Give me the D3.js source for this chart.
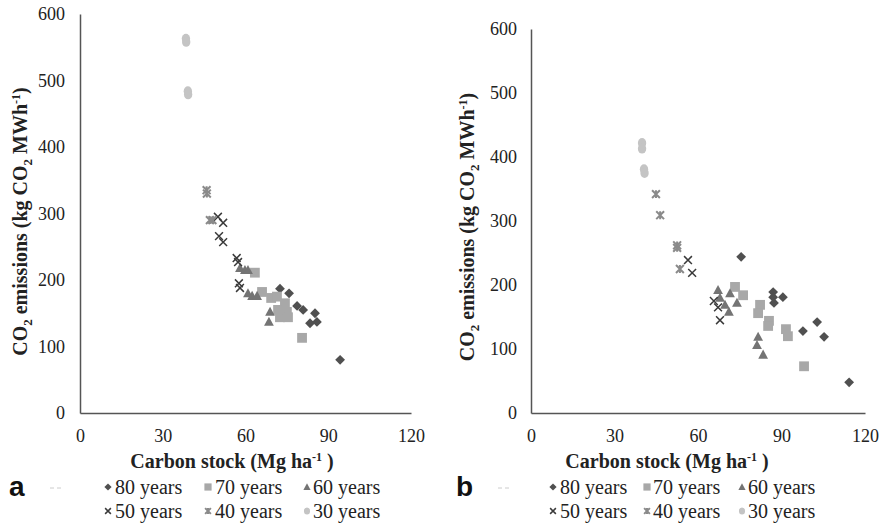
<!DOCTYPE html>
<html><head><meta charset="utf-8">
<script src="https://cdn.jsdelivr.net/npm/d3@7"></script>
<style>
html,body{margin:0;padding:0;background:#fff;}
</style></head>
<body><svg id="c" width="882" height="523"></svg>
<script>
// ---- data ----
const seriesNames = ["80 years","70 years","60 years","50 years","40 years","30 years"];
const xTicks = [0,30,60,90,120];
const yTicks = [0,100,200,300,400,500,600];

// panel a
const a80x=[72.5,75.8,78.7,80.9,85.2,83.4,85.9,94.3];
const a80y=[187,180,161,155,150,135,137,80];
const a70x=[63.4,66.0,69.3,71.4,74.3,75.0,72.5,75.4,80.5,71.8];
const a70y=[211,182,173,175,165,152,144,144,113,155];
const a60x=[58.0,59.8,60.9,60.9,62.4,64.2,68.9,68.5];
const a60y=[218,215,215,180,176,176,152,137];
const a50x=[50.0,51.9,50.4,51.9,56.8,57.3,57.6,58.0];
const a50y=[295,286,266,257,233,227,195,188];
const a40x=[45.9,46.0,47.1,48.0];
const a40y=[335,330,290,290];
const a30x=[38.4,38.5,39.1,39.2];
const a30y=[563,558,484,479];

// panel b
const b80x=[75.5,87.0,87.0,87.3,90.5,97.7,102.8,105.3,114.3];
const b80y=[244,189,181,172,181,128,142,119,48];
const b70x=[73.3,76.2,82.3,81.6,85.5,85.2,91.6,92.3,98.1];
const b70y=[197,184,169,156,144,136,131,120,73];
const b60x=[67.2,71.5,74.0,69.7,71.1,67.9,81.6,81.2,83.4];
const b60y=[192,187,172,169,158,180,119,106,91];
const b50x=[56.4,57.9,65.7,67.2,67.9];
const b50y=[239,219,175,165,145];
const b40x=[44.9,46.4,52.5,52.5,53.5];
const b40y=[342,309,262,258,225];
const b30x=[39.9,39.9,40.6,40.8];
const b30y=[422,413,381,375];

const zip=(xs,ys)=>xs.map((x,i)=>({x:x,y:ys[i]}));
const panelA=[zip(a80x,a80y),zip(a70x,a70y),zip(a60x,a60y),zip(a50x,a50y),zip(a40x,a40y),zip(a30x,a30y)];
const panelB=[zip(b80x,b80y),zip(b70x,b70y),zip(b60x,b60y),zip(b50x,b50y),zip(b40x,b40y),zip(b30x,b30y)];

// ---- styles ----
const SERIF='"Liberation Serif","Times New Roman",serif';
const SANS='"Liberation Sans",Arial,sans-serif';
const colors=["#505050","#a8a8a8","#747474","#3a3a3a","#8a8a8a","#c4c4c4"];
function drawMarker(g,k,s){
  if(k===0){ g.append("path").attr("d",`M0,${-s}L${s},0L0,${s}L${-s},0Z`).attr("fill",colors[0]); }
  else if(k===1){ g.append("rect").attr("x",-s).attr("y",-s).attr("width",2*s).attr("height",2*s).attr("fill",colors[1]); }
  else if(k===2){ g.append("path").attr("d",`M0,${-s*1.05}L${s},${s*0.8}L${-s},${s*0.8}Z`).attr("fill",colors[2]); }
  else if(k===3){ const t=s*0.8; g.append("path").attr("d",`M${-t},${-t}L${t},${t}M${-t},${t}L${t},${-t}`).attr("stroke",colors[3]).attr("stroke-width",1.5).attr("fill","none"); }
  else if(k===4){ const t=s*0.8; g.append("path").attr("d",`M${-t},${-t}L${t},${t}M${-t},${t}L${t},${-t}M0,${-t}L0,${t}`).attr("stroke",colors[4]).attr("stroke-width",2).attr("fill","none"); }
  else { g.append("ellipse").attr("rx",s*0.85).attr("ry",s).attr("fill",colors[5]); }
}

const svg=d3.select("#c");

function panel(cfg){
  const x=d3.scaleLinear().domain([0,120]).range([cfg.x0,cfg.x1]);
  const y=d3.scaleLinear().domain([0,600]).range([cfg.yb,cfg.yt]);
  const g=svg.append("g");
  const ya=d3.axisLeft(y).tickValues(yTicks).tickSize(0).tickPadding(cfg.ypad);
  g.append("g").attr("transform",`translate(${cfg.x0},0)`).call(ya)
    .call(s=>{s.select(".domain").attr("stroke","#555").attr("stroke-width",1.5);
      s.selectAll("text").style("font-size","18px").style("font-family",SERIF).attr("fill","#222");});
  const xa=d3.axisBottom(x).tickValues(xTicks).tickSize(0).tickPadding(16);
  g.append("g").attr("transform",`translate(0,${cfg.yb})`).call(xa)
    .call(s=>{s.select(".domain").attr("stroke","#555").attr("stroke-width",1.5);
      s.selectAll("text").style("font-size","18px").style("font-family",SERIF).attr("fill","#222");});
  cfg.data.forEach((pts,k)=>{
    pts.forEach(p=>{
      const m=g.append("g").attr("transform",`translate(${x(p.x)},${y(p.y)})`);
      drawMarker(m,k,4.9);
    });
  });
  const xt=g.append("text").attr("x",cfg.xtx).attr("y",468).attr("text-anchor","middle")
    .style("font-family",SERIF).style("font-size","20px").style("font-weight","bold").attr("fill","#222");
  xt.append("tspan").text("Carbon stock (Mg ha");
  xt.append("tspan").attr("dy",-7).style("font-size","12px").text("-1");
  xt.append("tspan").attr("dy",7).text(" )");
  const yc=(cfg.yt+cfg.yb)/2+cfg.ytdy;
  const yt=g.append("text").attr("transform",`translate(${cfg.ytx},${yc}) rotate(-90)`)
    .attr("text-anchor","middle").style("font-family",SERIF).style("font-size","20px").style("font-weight","bold").attr("fill","#222");
  yt.append("tspan").text("CO");
  yt.append("tspan").attr("dy",5).style("font-size","13px").text("2");
  yt.append("tspan").attr("dy",-5).text(" emissions (kg CO");
  yt.append("tspan").attr("dy",5).style("font-size","13px").text("2");
  yt.append("tspan").attr("dy",-5).text(" MWh");
  yt.append("tspan").attr("dy",-7).style("font-size","12px").text("-1");
  yt.append("tspan").attr("dy",7).text(")");
  svg.append("text").attr("x",cfg.lx).attr("y",496).style("font-family",SANS)
    .style("font-weight","bold").style("font-size","28px").attr("fill","#111").text(cfg.letter);
  svg.append("path").attr("d",`M${cfg.dash},488h4M${cfg.dash+7},488h4`).attr("stroke","#ccc").attr("stroke-width",1);
  seriesNames.forEach((n,i)=>{
    const col=i%3,row=Math.floor(i/3);
    const yy=row===0?487:511;
    const m=svg.append("g").attr("transform",`translate(${cfg.lm[col]},${yy})`);
    drawMarker(m,i,3.6);
    svg.append("text").attr("x",cfg.lt[col]).attr("y",yy+6.5).style("font-family",SERIF).style("font-size","20px").attr("fill","#222").text(n);
  });
}

panel({x0:80,x1:411,yt:14,yb:413,ypad:15,xtx:232,ytx:27,ytdy:8,data:panelA,letter:"a",lx:9,dash:50,
  lm:[108,208,307],lt:[115,215,313]});
panel({x0:531,x1:865,yt:29,yb:413,ypad:14,xtx:667,ytx:474,ytdy:6,data:panelB,letter:"b",lx:456,dash:498,
  lm:[553,647,742],lt:[560,653,748]});
</script></body></html>
